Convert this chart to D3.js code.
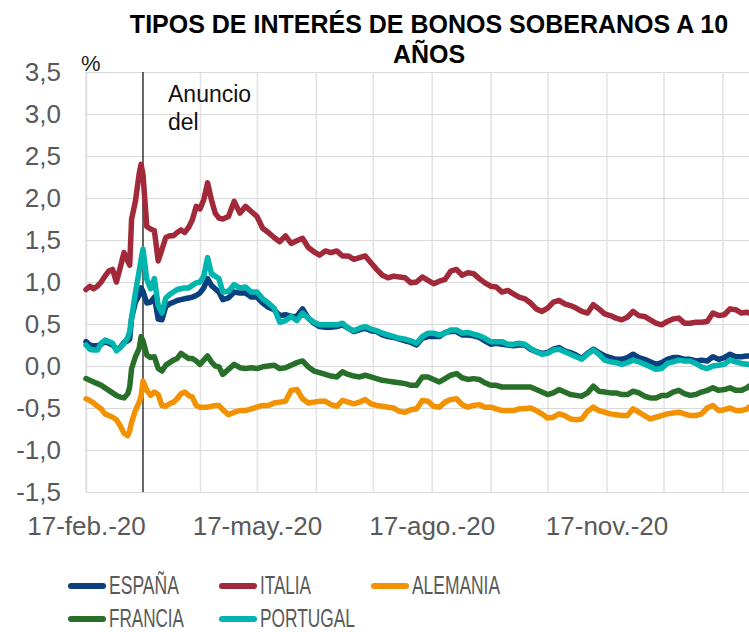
<!DOCTYPE html>
<html><head><meta charset="utf-8">
<script src="https://cdn.jsdelivr.net/npm/d3@7"></script>
<style>
body{margin:0;background:#fff}
svg{display:block}
text{font-family:"Liberation Sans",Arial,Helvetica,sans-serif}
</style></head>
<body><svg id="c" width="749" height="632"></svg>
<script>
// ---------- DATA ----------
const dates = ["2020-02-17","2020-02-19","2020-02-21","2020-02-23","2020-02-25","2020-02-27","2020-02-29","2020-03-02","2020-03-04","2020-03-06","2020-03-08","2020-03-10","2020-03-11","2020-03-12","2020-03-14","2020-03-16","2020-03-17","2020-03-18","2020-03-20","2020-03-22","2020-03-24","2020-03-26","2020-03-28","2020-03-30","2020-04-01","2020-04-03","2020-04-05","2020-04-07","2020-04-09","2020-04-11","2020-04-13","2020-04-15","2020-04-17","2020-04-19","2020-04-21","2020-04-23","2020-04-25","2020-04-27",
"2020-04-29","2020-05-02","2020-05-05","2020-05-08","2020-05-11","2020-05-14","2020-05-17","2020-05-20","2020-05-23","2020-05-26","2020-05-29","2020-06-01","2020-06-04","2020-06-07","2020-06-10","2020-06-13","2020-06-16","2020-06-19","2020-06-22","2020-06-25","2020-06-28","2020-07-01","2020-07-04","2020-07-07",
"2020-07-10","2020-07-13","2020-07-16","2020-07-19","2020-07-22","2020-07-25","2020-07-28","2020-07-31","2020-08-03","2020-08-06","2020-08-09","2020-08-12","2020-08-15","2020-08-18","2020-08-21","2020-08-24","2020-08-27","2020-08-30","2020-09-02","2020-09-05","2020-09-08","2020-09-11","2020-09-14","2020-09-17",
"2020-09-20","2020-09-23","2020-09-26","2020-09-29","2020-10-02","2020-10-05","2020-10-08","2020-10-11","2020-10-14","2020-10-17","2020-10-20","2020-10-23","2020-10-26","2020-10-29","2020-11-01","2020-11-04","2020-11-07","2020-11-10","2020-11-13","2020-11-16","2020-11-19","2020-11-22","2020-11-25",
"2020-11-28","2020-12-01","2020-12-04","2020-12-07","2020-12-10","2020-12-13","2020-12-16","2020-12-19","2020-12-22","2020-12-25","2020-12-28","2020-12-31","2021-01-03","2021-01-06","2021-01-09","2021-01-12","2021-01-15","2021-01-18","2021-01-21","2021-01-24","2021-01-27","2021-01-30","2021-01-31"];

const espana = [0.29,0.25,0.24,0.24,0.26,0.29,0.27,0.25,0.20,0.22,0.28,0.30,0.32,0.57,0.76,0.84,0.93,0.89,0.75,0.76,0.82,0.56,0.55,0.71,0.74,0.76,0.78,0.79,0.80,0.81,0.82,0.84,0.87,0.93,1.04,0.96,0.92,0.88,
0.79,0.81,0.88,0.87,0.87,0.82,0.82,0.75,0.70,0.67,0.60,0.61,0.59,0.59,0.68,0.57,0.51,0.47,0.46,0.46,0.47,0.49,0.45,0.41,
0.43,0.45,0.42,0.41,0.37,0.35,0.34,0.32,0.30,0.28,0.25,0.33,0.35,0.35,0.35,0.40,0.41,0.41,0.37,0.37,0.36,0.34,0.30,0.26,
0.27,0.26,0.25,0.24,0.25,0.25,0.20,0.17,0.15,0.16,0.20,0.22,0.18,0.16,0.13,0.09,0.15,0.20,0.16,0.12,0.10,0.08,0.08,
0.10,0.14,0.10,0.08,0.05,0.02,0.04,0.08,0.10,0.10,0.08,0.08,0.06,0.07,0.06,0.11,0.08,0.10,0.14,0.11,0.11,0.12,0.12];

const italia = [0.91,0.95,0.92,0.95,1.00,1.07,1.13,1.15,1.00,1.17,1.35,1.25,1.20,1.75,1.96,2.29,2.40,2.28,1.66,1.63,1.61,1.25,1.39,1.53,1.55,1.55,1.59,1.62,1.59,1.65,1.74,1.90,1.87,1.98,2.18,1.98,1.82,1.76,
1.75,1.78,1.96,1.82,1.90,1.84,1.78,1.64,1.59,1.53,1.48,1.55,1.46,1.49,1.52,1.41,1.36,1.32,1.37,1.35,1.37,1.31,1.31,1.27,
1.29,1.31,1.23,1.15,1.08,1.05,1.07,1.06,1.05,0.99,1.00,1.06,1.02,0.98,1.01,1.03,1.13,1.15,1.08,1.11,1.10,1.04,0.99,0.95,
0.94,0.88,0.90,0.86,0.82,0.80,0.75,0.68,0.65,0.69,0.76,0.78,0.74,0.72,0.69,0.65,0.63,0.73,0.68,0.62,0.60,0.57,0.55,
0.58,0.65,0.60,0.59,0.55,0.51,0.49,0.53,0.56,0.57,0.51,0.51,0.52,0.52,0.53,0.63,0.60,0.61,0.68,0.67,0.63,0.64,0.63];

const alemania = [-0.39,-0.41,-0.44,-0.48,-0.51,-0.57,-0.59,-0.61,-0.64,-0.71,-0.80,-0.83,-0.77,-0.67,-0.53,-0.43,-0.36,-0.18,-0.29,-0.35,-0.31,-0.34,-0.47,-0.48,-0.45,-0.43,-0.39,-0.33,-0.31,-0.35,-0.37,-0.47,-0.49,-0.49,-0.49,-0.48,-0.47,-0.47,
-0.52,-0.58,-0.55,-0.53,-0.53,-0.51,-0.49,-0.47,-0.47,-0.44,-0.43,-0.42,-0.29,-0.28,-0.39,-0.44,-0.43,-0.42,-0.42,-0.46,-0.48,-0.41,-0.43,-0.45,
-0.43,-0.40,-0.45,-0.47,-0.48,-0.49,-0.50,-0.54,-0.55,-0.52,-0.51,-0.41,-0.42,-0.48,-0.49,-0.43,-0.40,-0.39,-0.46,-0.49,-0.47,-0.46,-0.49,-0.49,
-0.51,-0.53,-0.53,-0.53,-0.51,-0.51,-0.50,-0.53,-0.57,-0.62,-0.61,-0.57,-0.59,-0.63,-0.64,-0.63,-0.54,-0.49,-0.53,-0.55,-0.57,-0.58,-0.59,
-0.59,-0.51,-0.55,-0.59,-0.63,-0.61,-0.59,-0.57,-0.56,-0.55,-0.57,-0.59,-0.59,-0.57,-0.50,-0.47,-0.53,-0.52,-0.50,-0.53,-0.53,-0.51,-0.49];

const francia = [-0.15,-0.17,-0.19,-0.21,-0.23,-0.26,-0.29,-0.32,-0.35,-0.37,-0.38,-0.33,-0.25,-0.03,0.11,0.21,0.35,0.30,0.13,0.10,0.11,-0.03,-0.06,0.01,0.04,0.07,0.09,0.15,0.12,0.09,0.09,0.06,0.02,0.07,0.12,0.05,0.00,-0.01,
-0.10,-0.04,0.02,-0.02,-0.03,-0.02,-0.03,-0.01,0.00,0.01,-0.03,-0.02,0.01,0.04,0.06,-0.01,-0.06,-0.08,-0.10,-0.12,-0.13,-0.07,-0.10,-0.12,
-0.13,-0.11,-0.13,-0.15,-0.17,-0.18,-0.19,-0.20,-0.21,-0.23,-0.23,-0.13,-0.13,-0.16,-0.19,-0.15,-0.11,-0.09,-0.14,-0.16,-0.15,-0.16,-0.20,-0.23,
-0.23,-0.25,-0.25,-0.25,-0.25,-0.25,-0.25,-0.28,-0.31,-0.34,-0.32,-0.28,-0.31,-0.34,-0.35,-0.36,-0.32,-0.24,-0.30,-0.31,-0.32,-0.32,-0.34,
-0.34,-0.30,-0.32,-0.36,-0.38,-0.38,-0.35,-0.35,-0.31,-0.29,-0.33,-0.35,-0.34,-0.31,-0.29,-0.26,-0.29,-0.28,-0.26,-0.29,-0.29,-0.26,-0.24];

const portugal = [0.25,0.20,0.19,0.19,0.27,0.31,0.29,0.27,0.18,0.22,0.27,0.34,0.41,0.57,0.87,1.13,1.27,1.39,1.03,0.92,1.04,0.72,0.63,0.81,0.85,0.88,0.91,0.92,0.93,0.93,0.96,0.99,1.00,1.07,1.29,1.10,1.07,1.04,
0.88,0.89,0.97,0.93,0.94,0.88,0.88,0.80,0.75,0.69,0.52,0.54,0.59,0.54,0.63,0.57,0.52,0.49,0.49,0.49,0.49,0.51,0.45,0.42,
0.45,0.47,0.44,0.42,0.39,0.37,0.35,0.33,0.32,0.30,0.27,0.35,0.39,0.39,0.37,0.39,0.43,0.43,0.39,0.40,0.38,0.36,0.33,0.29,
0.29,0.29,0.26,0.26,0.27,0.26,0.21,0.17,0.14,0.15,0.19,0.20,0.17,0.14,0.11,0.08,0.14,0.19,0.14,0.07,0.05,0.04,0.02,
0.04,0.07,0.05,0.02,-0.01,-0.04,-0.03,0.03,0.05,0.07,0.06,0.06,0.03,-0.01,-0.03,0.00,0.01,0.02,0.07,0.05,0.03,0.02,0.02];

const seriesNames = ["ESPAÑA","ITALIA","ALEMANIA","FRANCIA","PORTUGAL"];
const seriesColors = ["#0b3f7e","#a2293a","#f39200","#28702a","#00b5ae"];
const seriesValues = [espana, italia, alemania, francia, portugal];

const yTicks = [-1.5,-1.0,-0.5,0,0.5,1.0,1.5,2.0,2.5,3.0,3.5];
const yTickLabels = ["-1,5","-1,0","-0,5","0,0","0,5","1,0","1,5","2,0","2,5","3,0","3,5"];
const xLabelDates = ["2020-02-17","2020-05-17","2020-08-17","2020-11-17"];
const xTickLabels = ["17-feb.-20","17-may.-20","17-ago.-20","17-nov.-20"];
const xDomain = ["2020-02-17","2021-01-31"];
const annotationDate = "2020-03-18";
const annotationText = ["Anuncio","del"];
const titleLines = ["TIPOS DE INTERÉS DE BONOS SOBERANOS A 10","AÑOS"];

// ---------- CHART ----------
const parse = d3.timeParse("%Y-%m-%d");
const svg = d3.select("#c");
const L = 86, R = 749, T = 72, B = 492;

const x = d3.scaleTime().domain(xDomain.map(parse)).range([L, R]);
const y = d3.scaleLinear().domain([-1.5, 3.5]).range([B, T]);

// vertical monthly gridlines (17th of each month)
const annX = x(parse(annotationDate));
const monthTicks = d3.timeMonth.range(parse("2020-02-01"), parse("2021-02-01")).map(d => new Date(d.getFullYear(), d.getMonth(), 17))
  .filter(d => d >= x.domain()[0] && d <= x.domain()[1] && Math.abs(x(d) - annX) > 4);
svg.append("g").attr("transform", `translate(0,${B})`)
  .call(d3.axisBottom(x).tickValues(monthTicks).tickSize(-(B - T)).tickFormat(""))
  .call(g => g.select(".domain").remove())
  .call(g => g.selectAll("line").attr("stroke", "#e4e4e4").attr("stroke-width", 1.6));

// horizontal gridlines + y labels
svg.append("g").attr("transform", `translate(${L},0)`)
  .call(d3.axisLeft(y).tickValues(yTicks).tickSize(-(R - L)).tickPadding(25)
    .tickFormat((d, i) => yTickLabels[i]))
  .call(g => g.select(".domain").remove())
  .call(g => g.selectAll("line").attr("stroke", "#d9d9d9").attr("stroke-width", 1.2))
  .call(g => g.selectAll("text").attr("fill", "#595959").attr("font-size", 26)
    .attr("font-family", '"Liberation Sans",Arial,sans-serif'));

// left border
svg.append("line").attr("x1", L).attr("x2", L).attr("y1", T).attr("y2", B)
  .attr("stroke", "#d9d9d9").attr("stroke-width", 1.2);

// x labels
svg.append("g").attr("transform", `translate(0,${B})`)
  .call(d3.axisBottom(x).tickValues(xLabelDates.map(parse)).tickSize(0).tickPadding(24.5)
    .tickFormat((d, i) => xTickLabels[i]))
  .call(g => g.select(".domain").remove())
  .call(g => g.selectAll("text").attr("fill", "#595959").attr("font-size", 26)
    .attr("font-family", '"Liberation Sans",Arial,sans-serif'));

// annotation vertical line
svg.append("line").attr("x1", annX).attr("x2", annX).attr("y1", T).attr("y2", B)
  .attr("stroke", "#000").attr("stroke-width", 1.2);

// series
const line = d3.line().x(d => x(d.date)).y(d => y(d.v));
seriesValues.forEach((vals, k) => {
  const data = dates.map((s, i) => ({date: parse(s), v: vals[i]})).filter(d => d.v !== undefined);
  svg.append("path").datum(data).attr("d", line)
    .attr("fill", "none").attr("stroke", seriesColors[k]).attr("stroke-width", 5.5)
    .attr("stroke-linejoin", "round").attr("stroke-linecap", "round");
});

// annotation text
svg.append("text").attr("x", 168).attr("y", 102).attr("font-size", 23).attr("fill", "#111").text(annotationText[0]);
svg.append("text").attr("x", 168).attr("y", 130).attr("font-size", 23).attr("fill", "#111").text(annotationText[1]);

// % unit
svg.append("text").attr("x", 81).attr("y", 71).attr("font-size", 22).attr("fill", "#222").text("%");

// title
svg.append("text").attr("x", 429).attr("y", 33).attr("text-anchor", "middle").attr("font-size", 25)
  .attr("font-weight", "bold").attr("fill", "#000").text(titleLines[0]);
svg.append("text").attr("x", 429).attr("y", 63).attr("text-anchor", "middle").attr("font-size", 25)
  .attr("font-weight", "bold").attr("fill", "#000").text(titleLines[1]);

// legend (narrow lettering, as in the reference)
const legPos = [[71, 586], [222, 586], [374, 586], [71, 619], [222, 619]];
const legWidth = [70, 51, 88, 75, 95];
seriesNames.forEach((n, k) => {
  const [lx, ly] = legPos[k];
  svg.append("line").attr("x1", lx).attr("x2", lx + 32).attr("y1", ly).attr("y2", ly)
    .attr("stroke", seriesColors[k]).attr("stroke-width", 6).attr("stroke-linecap", "round");
  svg.append("text").attr("x", lx + 38).attr("y", ly + 7.5)
    .attr("font-family", '"Liberation Sans Narrow","Arial Narrow","Liberation Sans",Arial,sans-serif')
    .attr("textLength", legWidth[k]).attr("lengthAdjust", "spacingAndGlyphs")
    .attr("font-size", 25).attr("fill", "#595959").text(n);
});
</script></body></html>
